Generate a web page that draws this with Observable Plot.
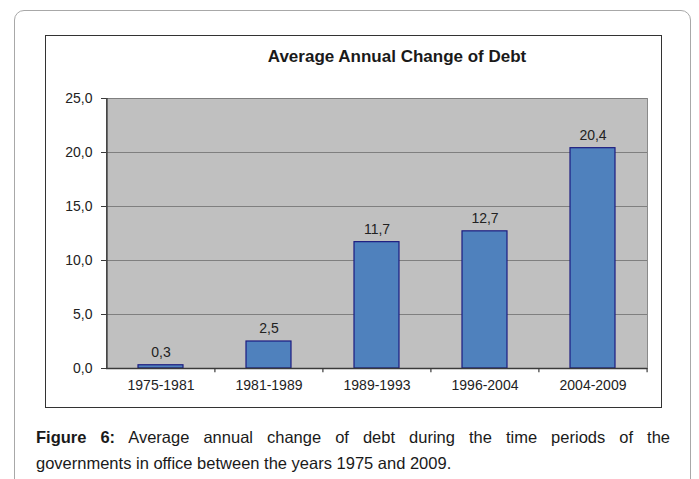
<!DOCTYPE html>
<html>
<head>
<meta charset="utf-8">
<script src="https://cdn.jsdelivr.net/npm/d3@7"></script>
<script src="https://cdn.jsdelivr.net/npm/@observablehq/plot@0.6"></script>
<style>
  html, body { margin: 0; padding: 0; background: #fff; }
  #page { position: relative; width: 699px; height: 479px; overflow: hidden; font-family: "Liberation Sans", Arial, sans-serif; }
  #outer { position: absolute; left: 14px; top: 10px; width: 677px; height: 500px; border: 1px solid #a8a8a8; border-radius: 10px; box-sizing: border-box; }
  #inner { position: absolute; left: 45px; top: 35px; width: 617px; height: 373px; border: 1.5px solid #333; box-sizing: border-box; }
  #title { position: absolute; left: 197px; top: 47px; width: 400px; text-align: center; font-weight: bold; font-size: 17px; color: #1a1a1a; white-space: nowrap; }
  #chart { position: absolute; left: 45px; top: 80px; }
  .cap { position: absolute; left: 36px; width: 634px; font-size: 16.5px; line-height: 26px; color: #1a1a1a; white-space: nowrap; }
  #cap1 { top: 424px; text-align: justify; text-align-last: justify; }
  #cap2 { top: 450px; text-align: left; }
</style>
</head>
<body>
<div id="page">
  <div id="outer"></div>
  <div id="inner"></div>
  <div id="title">Average Annual Change of Debt</div>
  <div id="chart"></div>
  <div class="cap" id="cap1"><b>Figure 6:</b> Average annual change of debt during the time periods of the</div>
  <div class="cap" id="cap2">governments in office between the years 1975 and 2009.</div>
</div>
<script>
const periods = ["1975-1981", "1981-1989", "1989-1993", "1996-2004", "2004-2009"];
const values = [0.3, 2.5, 11.7, 12.7, 20.4];
const yTicks = [0, 5, 10, 15, 20, 25];

const data = periods.map((p, i) => ({period: p, value: values[i]}));
const fmt = d => d.toFixed(1).replace(".", ",");

const W = 616, H = 327, mL = 61, mR = 14, mT = 18, mB = 39;
const step = (W - mL - mR) / periods.length;

const chart = Plot.plot({
  width: W,
  height: H,
  marginLeft: mL,
  marginRight: mR,
  marginTop: mT,
  marginBottom: mB,
  style: {fontFamily: "'Liberation Sans', Arial, sans-serif", fontSize: "14px", color: "#222", background: "transparent"},
  x: {domain: periods, paddingInner: 0.58, paddingOuter: 0.29, label: null},
  y: {domain: [0, 25], label: null},
  marks: [
    Plot.frame({fill: "#c0c0c0", stroke: "#8a8a8a"}),
    Plot.ruleY(yTicks.filter(d => d > 0), {stroke: "#7f7f7f", strokeWidth: 1.2}),
    Plot.barY(data, {x: "period", y: "value", fill: "#4f81bd", stroke: "#1c1c80", strokeWidth: 1.2}),
    Plot.text(data, {x: "period", y: "value", text: d => fmt(d.value), dy: -13, fill: "#222", fontSize: 14}),
    Plot.ruleY([0], {stroke: "#3a3a3a", strokeWidth: 1.5}),
    Plot.ruleX([periods[0]], {dx: -step / 2, y1: 0, y2: 25, stroke: "#3a3a3a", strokeWidth: 1.5}),
    Plot.ruleX(periods.slice(1), {dx: -step / 2, y1: 0, y2: -0.4, stroke: "#3a3a3a", strokeWidth: 1.2}),
    Plot.ruleX([periods[periods.length - 1]], {dx: step / 2, y1: 0, y2: -0.4, stroke: "#3a3a3a", strokeWidth: 1.2}),
    Plot.axisY({ticks: yTicks, tickFormat: fmt, tickSize: 5, tickPadding: 9, stroke: "#3a3a3a", fill: "#222", fontSize: 14}),
    Plot.axisX({tickSize: 0, tickPadding: 12, fill: "#222", fontSize: 14})
  ]
});
document.getElementById("chart").appendChild(chart);
</script>
</body>
</html>
